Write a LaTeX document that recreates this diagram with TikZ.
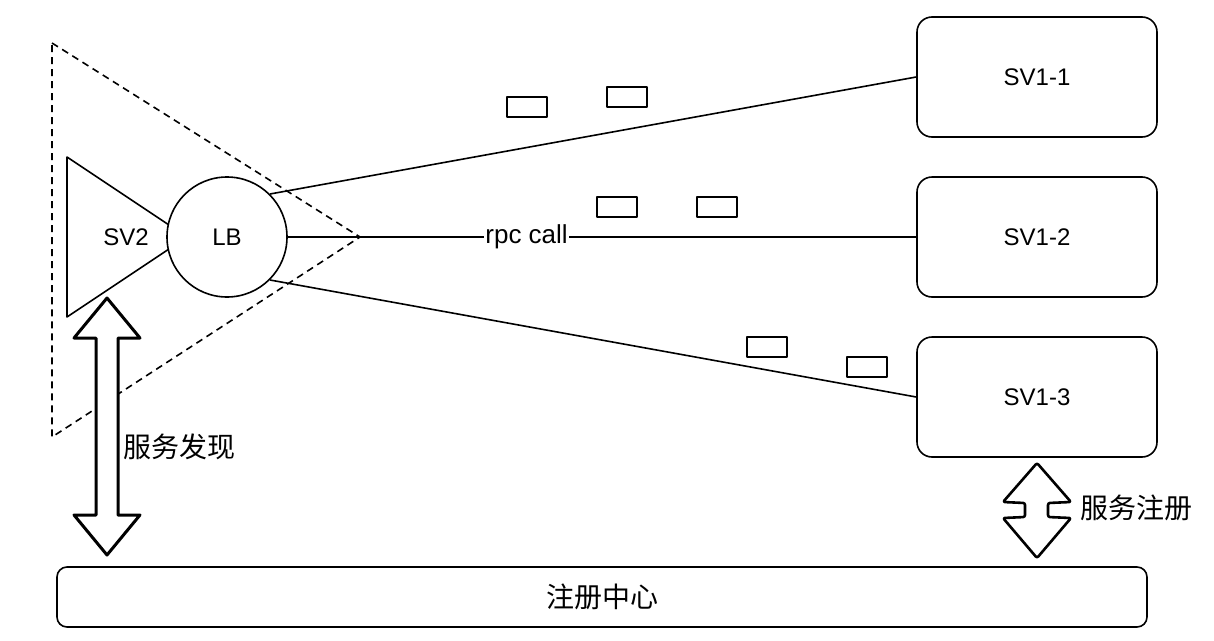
\documentclass[tikz,border=0pt]{standalone}
\usepackage{fontspec}
\setmainfont{Liberation Sans}
\newfontfamily\cjk{Noto Sans CJK SC}
\tikzset{sv/.style={draw, fill=white, rounded corners=15pt, minimum width=240pt, minimum height=120pt, font=\fontsize{24}{28}\selectfont}}

\begin{document}
\begin{tikzpicture}[x=1pt, y=-1pt, line width=1.6pt, line join=round]
\tikzstyle{msg}=[draw, minimum width=40pt, minimum height=20pt, inner sep=0pt]
\tikzstyle{lbl}=[font=\fontsize{24}{28}\selectfont]
\tikzstyle{cn}=[font=\cjk\fontsize{28}{32}\selectfont]
\tikzstyle{blk}=[line width=3pt, fill=white]
\useasboundingbox (0,0) rectangle (1214,640);
% caller side
\draw[dashed, dash pattern=on 7pt off 5pt] (52,43) -- (360,237) -- (52,437) -- cycle;
\draw (67,157) -- (187,237) -- (67,317) -- cycle;
\node[lbl] (sv2) at (126,237) {SV2};
\node[draw, circle, fill=white, minimum size=120pt, inner sep=0pt, lbl] (lb) at (227,237) {LB};
% providers
\node[sv] (sv11) at (1037,77) {SV1-1};
\node[sv] (sv12) at (1037,237) {SV1-2};
\node[sv] (sv13) at (1037,397) {SV1-3};
\node[draw, rounded corners=10pt, minimum width=1090pt, minimum height=60pt, cn] (reg) at (602,597) {注册中心};
% calls
\draw (lb.north east) -- (sv11.west);
\draw (lb.east) -- (sv12.west) node[pos=0.38, fill=white, inner sep=1pt, font=\fontsize{26}{30}\selectfont] (rpc) {rpc call};
\draw (lb.south east) -- (sv13.west);
\foreach \n/\x/\y in {1/527/107, 2/627/97, 3/617/207, 4/717/207, 5/767/347, 6/867/367}
  \node[msg] (msg\n) at (\x,\y) {};
% discovery / registration
\coordinate (dtop) at (107,298);
\draw[blk] (dtop) -- ++(33,40) -- ++(-22,0) -- ++(0,177) -- ++(22,0) -- ++(-33,40)
  -- ++(-33,-40) -- ++(22,0) -- ++(0,-177) -- ++(-22,0) -- cycle;
\node[cn, anchor=west] (disc) at (119,447) {服务发现};
\coordinate (rtop) at (1037,463);
\draw[blk, line width=2.6pt, rounded corners=2pt] (rtop) -- ++(34,39) -- ++(-23,1) -- ++(0,14) -- ++(23,1) -- ++(-34,40)
  -- ++(-34,-40) -- ++(22,-1) -- ++(0,-14) -- ++(-22,-1) -- cycle;
\node[cn, anchor=west] (regl) at (1076,508) {服务注册};
\end{tikzpicture}
\end{document}
